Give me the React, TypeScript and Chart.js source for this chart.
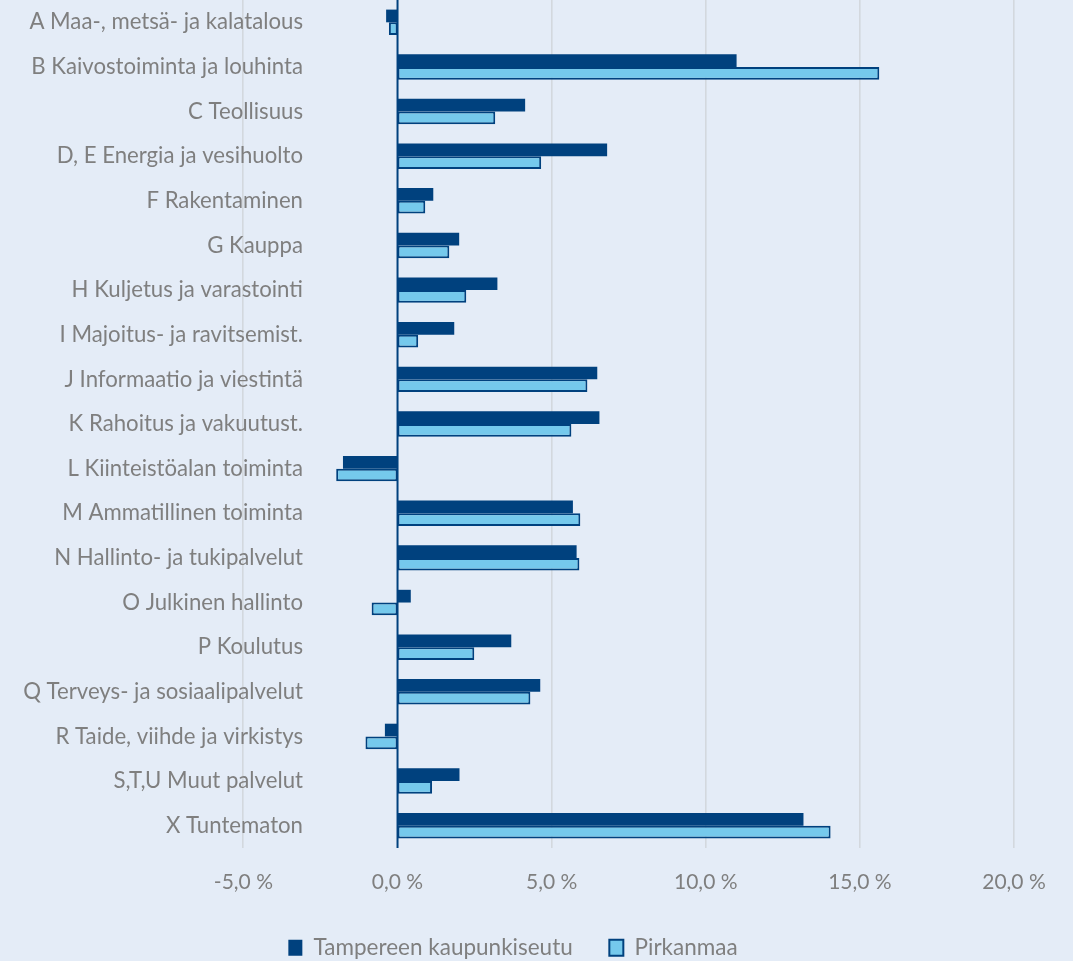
import React, { useEffect, useRef } from "react";
import { Chart, registerables } from "chart.js";

Chart.register(...registerables);

const categories = [
  "A Maa-, metsä- ja kalatalous",
  "B Kaivostoiminta ja louhinta",
  "C Teollisuus",
  "D, E Energia ja vesihuolto",
  "F Rakentaminen",
  "G Kauppa",
  "H Kuljetus ja varastointi",
  "I Majoitus- ja ravitsemist.",
  "J Informaatio ja viestintä",
  "K Rahoitus ja vakuutust.",
  "L Kiinteistöalan toiminta",
  "M Ammatillinen toiminta",
  "N Hallinto- ja tukipalvelut",
  "O Julkinen hallinto",
  "P Koulutus",
  "Q Terveys- ja sosiaalipalvelut",
  "R Taide, viihde ja virkistys",
  "S,T,U Muut palvelut",
  "X Tuntematon",
];

const tampereenKaupunkiseutu = [
  -0.37, 11.0, 4.14, 6.8, 1.16, 2.0, 3.24, 1.84, 6.48, 6.55, -1.77, 5.69, 5.81,
  0.43, 3.69, 4.63, -0.41, 2.01, 13.17,
];

const pirkanmaa = [
  -0.28, 15.63, 3.17, 4.66, 0.9, 1.68, 2.23, 0.67, 6.16, 5.64, -1.99, 5.93, 5.9,
  -0.84, 2.49, 4.31, -1.04, 1.12, 14.05,
];

const seriesNames = ["Tampereen kaupunkiseutu", "Pirkanmaa"];
const xTicks = [-5, 0, 5, 10, 15, 20];

const DARK = "#00417e";
const LIGHT = "#75c9ec";
const BG = "#e4ecf7";
const TEXT = "#7f7f7f";
const GRID = "#d3d8de";
const FONT = "Lato, 'Open Sans', sans-serif";

const gridPlugin = {
  id: "customGrid",
  afterDatasetsDraw(chart: any) {
    const xs = chart.scales.x;
    const { top, bottom } = chart.chartArea;
    const ctx = chart.ctx;
    const px = xs.getPixelForValue(0);
    ctx.save();
    ctx.strokeStyle = DARK;
    ctx.lineWidth = 2;
    ctx.beginPath();
    ctx.moveTo(px, top);
    ctx.lineTo(px, bottom);
    ctx.stroke();
    ctx.restore();
  },
  afterDraw(chart: any) {
    const xs = chart.scales.x;
    const { top, bottom } = chart.chartArea;
    const ctx = chart.ctx;
    ctx.save();
    ctx.globalCompositeOperation = "destination-over";
    ctx.fillStyle = GRID;
    xTicks.forEach((v) => {
      if (v === 0) return;
      const px = xs.getPixelForValue(v);
      ctx.fillRect(Math.round(px) - 1, top, 1.6, bottom - top);
    });
    ctx.restore();
  },
  afterLayout(chart: any) {
    const l = chart.legend;
    if (l) {
      l.left += 6;
      l.right += 6;
      l.top += 8;
      l.bottom += 8;
    }
  },
};

export default function App() {
  const ref = useRef<HTMLCanvasElement | null>(null);

  useEffect(() => {
    if (!ref.current) return;
    const chart = new Chart(ref.current, {
      type: "bar",
      data: {
        labels: categories,
        datasets: [
          {
            label: seriesNames[0],
            data: tampereenKaupunkiseutu,
            backgroundColor: DARK,
            borderColor: DARK,
            borderWidth: 0,
            categoryPercentage: 0.57,
            barPercentage: 1,
          },
          {
            label: seriesNames[1],
            data: pirkanmaa,
            backgroundColor: LIGHT,
            borderColor: DARK,
            borderWidth: 2,
            borderSkipped: false,
            categoryPercentage: 0.57,
            barPercentage: 1,
          },
        ],
      },
      options: {
        indexAxis: "y",
        animation: false,
        responsive: true,
        maintainAspectRatio: false,
        layout: { padding: { left: 0, right: 59, top: 0, bottom: 0 } },
        scales: {
          x: {
            min: -5.5,
            max: xTicks[xTicks.length - 1],
            afterBuildTicks: (axis: any) => {
              axis.ticks = xTicks.map((v) => ({ value: v }));
            },
            afterFit: (axis: any) => {
              axis.height = 78.5;
            },
            ticks: {
              color: TEXT,
              font: { family: FONT, size: 21 },
              padding: 22,
              maxRotation: 0,
              callback: (v: any) =>
                Number(v).toFixed(1).replace(".", ",") + " %",
            },
            grid: { display: false, drawTicks: false },
            border: { display: false },
          },
          y: {
            afterFit: (axis: any) => {
              axis.width = 228;
              axis._computeLabelArea = () => undefined;
            },
            ticks: {
              color: TEXT,
              font: { family: FONT, size: 22.2 },
              padding: -75,
              autoSkip: false,
            },
            grid: { display: false, drawTicks: false },
            border: { display: false },
          },
        },
        plugins: {
          legend: {
            position: "bottom",
            labels: {
              color: TEXT,
              font: { family: FONT, size: 22.5 },
              boxWidth: 14,
              boxHeight: 16,
              padding: 2,
              generateLabels: (c: any) => {
                const items =
                  Chart.defaults.plugins.legend.labels.generateLabels(c);
                return items.map((it: any, i: number) => ({
                  ...it,
                  text: i === 0 ? it.text + "      " : it.text,
                }));
              },
            },
          },
          tooltip: { enabled: false },
        },
      },
      plugins: [gridPlugin],
    });
    return () => chart.destroy();
  }, []);

  return (
    <div
      style={{
        position: "fixed",
        left: 0,
        top: 0,
        width: 1073,
        height: 961,
        background: BG,
      }}
    >
      <canvas ref={ref} />
    </div>
  );
}
